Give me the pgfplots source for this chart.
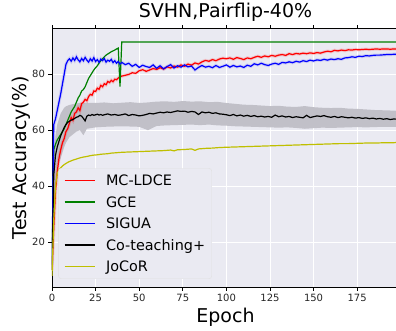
\documentclass[border=0pt]{standalone}
\usepackage{fontspec}
\setmainfont{DejaVu Sans}
\usepackage{pgfplots}
\usepackage{pgfplotstable}
\pgfplotsset{compat=1.18}
\definecolor{bg}{HTML}{EAEAF2}
\definecolor{bandc}{HTML}{C1C0C8}
\definecolor{yel}{rgb}{0.75,0.75,0}
\definecolor{grn}{rgb}{0,0.5,0}
\pgfplotstableread{
x y
0 10
1 25
2 38
3 45
4 50
5 53
6 55.5
7 57
8 59.5
9 60.5
10 62.5
11 64.5
12 63.5
13 66
14 66.5
15 68
16 67
17 69.5
18 70
19 71
20 70.5
21 72
22 72.8
23 72.5
24 74
25 73.8
26 75
27 74.6
28 76
29 75.5
30 76.6
31 76.2
32 77.4
33 77
34 77.8
35 77.3
36 78.2
37 78
38 78.6
39 79
40 79.3
42 79.6
44 79.9
46 80.5
48 80.3
50 81.2
52 81.6
54 81
56 81.5
58 82
60 81.7
62 82.3
64 81.8
66 82.6
68 82.2
70 82.9
72 82.5
74 83.3
76 82.8
78 83.6
80 83.2
82 84
84 83.6
86 84.4
88 84.9
90 84.6
92 85.2
94 84.8
96 85.4
98 85.7
100 85.5
102 85.8
104 85.3
106 85.9
108 85.6
110 85.2
112 85.8
114 85.5
116 86
118 86.4
120 86
122 86.5
124 86.2
126 86.7
128 86.4
130 86.8
132 87
134 86.7
136 87.3
138 87
140 87.4
142 87.2
144 87.5
146 87.3
148 87.6
150 87.4
152 87.7
154 87.5
156 87.9
158 88.2
160 88
162 88.5
164 88.3
166 88.6
168 88.4
170 88.7
172 88.6
174 88.8
176 88.7
178 88.8
180 88.9
182 88.8
184 88.9
186 89
188 88.9
190 89
192 89
194 88.9
196 89
198 89
}\tred
\pgfplotstableread{
x y
0 12
1 62
2 64
3 67
4 70
5 73
6 76.5
7 80
8 83.5
9 84.8
10 85.5
11 84.6
12 85.8
13 84.9
14 86.2
15 85.1
16 84.4
17 85.6
18 84.8
19 86
20 85
21 84.3
22 85.5
23 84.7
24 85.9
25 84.5
26 85.2
27 84.2
28 85.4
29 84.8
30 85.6
31 84.3
32 85
33 84.6
34 85.3
35 84.1
36 84.8
37 83.9
38 84.5
39 83.6
40 84.2
42 83.4
44 83.9
46 82.8
48 83.5
50 82.4
52 83.2
54 82.7
56 82.4
58 83.3
60 82.1
62 83
64 81.9
66 82.7
68 83.4
70 82.2
72 83
74 82.5
76 83.3
78 82.6
80 82.9
82 81.5
84 82.4
86 83.1
88 82.5
90 82.8
92 82.3
94 83.1
96 82.4
98 82.8
100 83.3
102 82.5
104 83.1
106 82.6
108 82.9
110 82.4
112 83.2
114 82.8
116 83.7
118 83.3
120 83.9
122 83.4
124 83.1
126 83.6
128 83.9
130 83.5
132 84.2
134 84
136 84.4
138 84.1
140 84.6
142 84.3
144 84.8
146 84.5
148 85
150 84.7
152 85.1
154 84.9
156 85.3
158 85
160 85.4
162 85.2
164 85.5
166 85.3
168 85.8
170 85.9
172 86.2
174 86
176 86.4
178 86.3
180 86.6
182 86.5
184 86.7
186 86.8
188 86.8
190 86.9
192 87
194 87
196 87.1
198 87.1
}\tblue
\pgfplotstableread{
x y
0 10
1 53
2 55
3 56.5
4 57.5
5 58.5
6 59.5
7 60.5
8 62
9 63.5
10 65
11 66.5
12 67.5
13 68.5
14 70
15 71.5
16 72.5
17 74
18 74.5
19 75.5
20 77
21 78.5
22 79.5
23 80.5
24 81.5
25 82.3
26 83
27 84
28 84.8
29 85.5
30 86.2
31 86.8
32 87.2
33 87.6
34 88
35 88.3
36 88.6
37 89
38 89.3
39 75.6
40 91.5
198 91.5
}\tgreen
\pgfplotstableread{
x y
0 10
1 44
2 51
3 54
4 56
5 58
6 59.5
7 61
8 62
9 62.8
10 63.2
11 63.6
12 63.8
13 64.2
14 64.6
15 64.8
16 65.3
17 65
18 64.2
19 63.3
20 65
21 65.4
22 65.2
23 65.6
24 65.3
25 65.5
26 65.7
27 65.4
28 65.6
29 65.3
30 65.5
32 65.8
34 65.4
36 65.6
38 65.3
40 65.5
42 65.8
44 65.2
46 65.6
48 65.4
50 65.1
52 65.3
54 65.6
56 66
58 65.8
60 66.1
62 66.4
64 66.2
66 66.5
68 66.3
70 66.6
72 66.9
74 66.7
76 66.8
78 66.4
80 66.7
82 66.5
84 65.6
86 66.5
88 66.2
90 66.4
92 66
94 66.2
96 65.8
98 65.7
100 65.5
102 65.2
104 65.6
106 65.1
108 65.4
110 65
112 65.3
114 64.9
116 65.2
118 64.8
120 65
122 64.7
124 64.9
126 64.6
128 65.4
130 64.8
132 65.1
134 64.7
136 64.9
138 64.5
140 64.8
142 64.6
144 64.4
146 65.3
148 64.5
150 64.8
152 65.1
154 64.9
156 65.2
158 64.8
160 64.6
162 64.9
164 64.5
166 64.8
168 64.6
170 64.4
172 64.6
174 64.3
176 64.5
178 64.2
180 64.4
182 64.1
184 64.3
186 64
188 64.2
190 63.9
192 64.1
194 63.8
196 64
198 63.9
}\tblack
\pgfplotstableread{
x y
0 12
1 50
2 58
3 62
4 64
5 66
6 67
7 68
8 68.5
10 69
12 69.3
14 69.5
16 69.8
18 69.6
20 69.8
25 69.7
30 69.9
35 69.6
40 69.8
45 70
50 69.7
55 69.9
60 70.2
65 70.3
70 70.1
75 70.4
80 70.2
85 70.3
90 70
95 70.1
100 69.7
105 69.4
110 69.1
115 69
120 68.8
125 68.6
130 68.7
135 68.4
140 68.3
145 68.6
150 68.2
155 68
160 67.9
165 68
170 67.7
175 67.6
180 67.4
185 67.2
190 67.1
195 67
198 66.9
198 61.2
195 61.2
190 61.2
185 61.1
180 61
175 61.1
170 61
165 60.9
160 60.8
155 60.9
150 60.7
145 60.5
140 60.8
135 61
130 60.9
125 61
120 61.1
115 61.2
110 61.3
105 61.4
100 61.6
95 61.7
90 62
85 61.8
80 62
75 61.9
70 61.8
65 61.7
60 61.5
55 60
50 61.2
45 61.3
40 61.4
35 61.3
30 61.2
25 61
20 60.5
18 58.2
16 60
14 59.5
12 58.5
10 57.5
8 55.5
7 54
6 52
5 50
4 48
3 45
2 40
1 30
0 8
}\tband
\pgfplotstableread{
x y
0 8
1 28
2 40
3 44.5
4 45.8
5 46.6
6 47.2
7 47.7
8 48.1
9 48.5
10 48.8
12 49.3
14 49.7
16 50.1
18 50.4
20 50.6
22 50.9
24 51.1
26 51.2
28 51.4
30 51.5
32 51.6
34 51.8
36 51.9
38 52
40 52.1
44 52.2
48 52.3
52 52.4
56 52.5
60 52.6
64 52.7
68 52.9
70 52.6
72 53
76 53.1
80 53.3
82 52.8
84 53.3
88 53.5
92 53.6
96 53.8
100 53.9
105 54
110 54.1
115 54.2
120 54.3
125 54.4
130 54.5
135 54.6
140 54.7
145 54.8
150 54.9
155 55
160 55.1
165 55.2
170 55.2
175 55.3
180 55.4
185 55.4
190 55.5
195 55.5
198 55.6
}\tyellow
\begin{document}
\begin{tikzpicture}
\begin{axis}[
 scale only axis, width=347pt, height=258.5pt,
 xmin=0, xmax=199, ymin=4, ymax=96.3,
 axis background/.style={fill=bg},
 grid=major, major grid style={white, line width=0.9pt},
 xtick={0,25,...,175}, ytick={20,40,60,80},
 tick align=outside, major tick length=3.5pt,
 tick style={black, line width=0.8pt},
 axis line style={black, line width=0.8pt},
 tick label style={font=\fontsize{10}{12}\selectfont, text=black!85},
 /pgf/number format/assume math mode=true,
 title={SVHN,Pairflip-40\%},
 title style={font=\fontsize{19}{22}\selectfont, at={(axis description cs:0.5,1.0193)}, anchor=base, inner sep=0pt},
 xlabel={Epoch},
 xlabel style={font=\fontsize{19}{22}\selectfont, at={(axis description cs:0.5,-0.138)}, anchor=base, inner sep=0pt},
 ylabel={Test Accuracy(\%)},
 ylabel style={font=\fontsize{19}{22}\selectfont, at={(axis description cs:-0.0749,0.5)}, anchor=base, inner sep=0pt},
 legend style={at={(axis description cs:0.018,0.031)}, anchor=south west,
   font=\fontsize{14.4}{17}\selectfont, fill=bg, draw=black!12, rounded corners=3pt,
   row sep=9pt, column sep=9.7pt, inner xsep=5.7pt, inner ysep=6pt,
   nodes={inner sep=1pt, text height=10.5pt, text depth=0pt}},
 legend cell align=left,
 legend image code/.code={\draw[#1, line width=1.2pt] (0pt,0pt) -- (30pt,0pt);},
]
\addplot[fill=bandc, draw=none, forget plot] table {\tband};
\addplot[red, opacity=0.15, line width=3.2pt, forget plot] table {\tred};
\addplot[blue, opacity=0.12, line width=3.2pt, forget plot] table {\tblue};
\addplot[red, line width=1.2pt] table {\tred};
\addlegendentry{MC-LDCE}
\addplot[grn, line width=1.2pt] table {\tgreen};
\addlegendentry{GCE}
\addplot[blue, line width=1.2pt] table {\tblue};
\addlegendentry{SIGUA}
\addplot[black, line width=1.2pt] table {\tblack};
\addlegendentry{Co-teaching+}
\addplot[yel, line width=1.2pt] table {\tyellow};
\addlegendentry{JoCoR}
\end{axis}
\pgfresetboundingbox
\path[use as bounding box] (-52pt,-43pt) rectangle (344pt,287pt);
\end{tikzpicture}
\end{document}
